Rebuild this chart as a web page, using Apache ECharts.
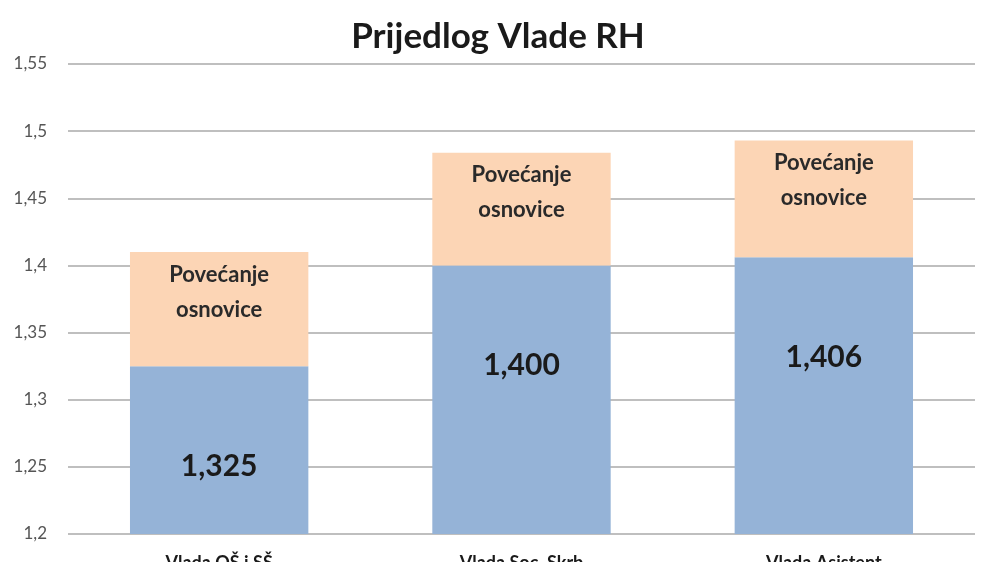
<!DOCTYPE html>
<html><head><meta charset="utf-8">
<script src="https://cdn.jsdelivr.net/npm/echarts@6/dist/echarts.min.js"></script>
<style>html,body{margin:0;padding:0;background:#fff}#c{width:996px;height:562px}</style>
</head><body><div id="c"></div>
<script>
const categories = ['Vlada OŠ i SŠ', 'Vlada Soc. Skrb', 'Vlada Asistent'];
const baseValues = [1.325, 1.400, 1.406];
const increaseValues = [0.085, 0.084, 0.087];
const baseLabels = ['1,325', '1,400', '1,406'];
const increaseLabel = 'Povećanje\nosnovice';
const yMin = 1.2, yMax = 1.55, yStep = 0.05;

const font = 'Lato, "Open Sans", sans-serif';
const chart = echarts.init(document.getElementById('c'));
chart.setOption({
  animation: false,
  title: { text: 'Prijedlog Vlade RH', left: 'center', top: 14,
    textStyle: { fontFamily: font, fontSize: 35, fontWeight: 'bold', color: '#1a1a1a' } },
  grid: { left: 68, right: 21, top: 64, bottom: 28, outerBoundsMode: 'none', containLabel: false },
  xAxis: { type: 'category', data: categories,
    axisLine: { show: false }, axisTick: { show: false },
    axisLabel: { margin: 20, fontFamily: font, fontSize: 18, fontWeight: 'bold', color: '#1a1a1a' } },
  yAxis: { type: 'value', min: yMin, max: yMax, interval: yStep,
    axisLine: { show: false }, axisTick: { show: false },
    splitLine: { lineStyle: { color: '#bfbfbf', width: 2 } },
    axisLabel: { margin: 21, fontFamily: font, fontSize: 17, color: '#555',
      formatter: v => String(Math.round(v * 100) / 100).replace('.', ',') } },
  series: [
    { type: 'bar', stack: 's', barWidth: '59%', data: baseValues,
      itemStyle: { color: '#95b3d7' },
      label: { show: true, position: 'insideTop', distance: 85,
        formatter: p => baseLabels[p.dataIndex],
        fontFamily: font, fontSize: 30, fontWeight: 'bold', color: '#1a1a1a', lineHeight: 30 } },
    { type: 'bar', stack: 's', barWidth: '59%', data: increaseValues,
      itemStyle: { color: '#fcd5b5' },
      label: { show: true, position: 'insideTop', distance: 5,
        formatter: () => increaseLabel,
        fontFamily: font, fontSize: 22, fontWeight: 'bold', color: '#2a2a2a', lineHeight: 35 } }
  ]
});
</script></body></html>
